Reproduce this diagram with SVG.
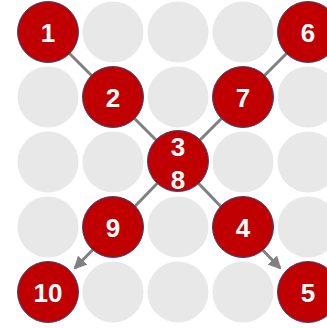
<svg xmlns="http://www.w3.org/2000/svg" width="327" height="328" viewBox="0 0 327 328">
<defs>
<style>
.bg{fill:#e8e8e8}
.n{fill:#c00000;stroke:#3a4a7a;stroke-width:1}
.t{fill:#fff;font-family:"Liberation Sans",Arial,sans-serif;font-weight:bold;font-size:26px;text-anchor:middle;dominant-baseline:central}
.e{stroke:#808080;stroke-width:3;fill:none}
</style>
<marker id="ah" markerWidth="13" markerHeight="13" refX="11" refY="6.5" orient="auto" markerUnits="userSpaceOnUse" viewBox="0 0 13 13">
<path d="M0,0 L13,6.5 L0,13 z" fill="#808080"/>
</marker>
</defs>
<g id="grid">
<circle class="bg" cx="48" cy="32" r="30.5"/><circle class="bg" cx="113" cy="32" r="30.5"/><circle class="bg" cx="178" cy="32" r="30.5"/><circle class="bg" cx="243" cy="32" r="30.5"/><circle class="bg" cx="308" cy="32" r="30.5"/>
<circle class="bg" cx="48" cy="97" r="30.5"/><circle class="bg" cx="113" cy="97" r="30.5"/><circle class="bg" cx="178" cy="97" r="30.5"/><circle class="bg" cx="243" cy="97" r="30.5"/><circle class="bg" cx="308" cy="97" r="30.5"/>
<circle class="bg" cx="48" cy="162" r="30.5"/><circle class="bg" cx="113" cy="162" r="30.5"/><circle class="bg" cx="178" cy="162" r="30.5"/><circle class="bg" cx="243" cy="162" r="30.5"/><circle class="bg" cx="308" cy="162" r="30.5"/>
<circle class="bg" cx="48" cy="227" r="30.5"/><circle class="bg" cx="113" cy="227" r="30.5"/><circle class="bg" cx="178" cy="227" r="30.5"/><circle class="bg" cx="243" cy="227" r="30.5"/><circle class="bg" cx="308" cy="227" r="30.5"/>
<circle class="bg" cx="48" cy="292" r="30.5"/><circle class="bg" cx="113" cy="292" r="30.5"/><circle class="bg" cx="178" cy="292" r="30.5"/><circle class="bg" cx="243" cy="292" r="30.5"/><circle class="bg" cx="308" cy="292" r="30.5"/>
</g>
<g id="connectors">
<line class="e" x1="48" y1="32" x2="178" y2="162"/>
<line class="e" x1="178" y1="162" x2="280" y2="268" marker-end="url(#ah)"/>
<line class="e" x1="308" y1="32" x2="178" y2="162"/>
<line class="e" x1="178" y1="162" x2="75" y2="268" marker-end="url(#ah)"/>
</g>
<g id="n1"><circle class="n" cx="48" cy="32" r="30.5"/><text class="t" x="48" y="33">1</text></g>
<g id="n2"><circle class="n" cx="113" cy="97" r="30.5"/><text class="t" x="113" y="98">2</text></g>
<g id="n38"><circle class="n" cx="178" cy="161" r="30.5"/><text class="t" x="178" y="147">3</text><text class="t" x="178" y="180">8</text></g>
<g id="n4"><circle class="n" cx="243" cy="227" r="30.5"/><text class="t" x="243" y="228">4</text></g>
<g id="n5"><circle class="n" cx="308" cy="292" r="30.5"/><text class="t" x="308" y="293">5</text></g>
<g id="n6"><circle class="n" cx="308" cy="32" r="30.5"/><text class="t" x="308" y="33">6</text></g>
<g id="n7"><circle class="n" cx="243" cy="97" r="30.5"/><text class="t" x="243" y="98">7</text></g>
<g id="n9"><circle class="n" cx="113" cy="227" r="30.5"/><text class="t" x="113" y="228">9</text></g>
<g id="n10"><circle class="n" cx="48" cy="292" r="30.5"/><text class="t" x="48" y="293">10</text></g>
</svg>
